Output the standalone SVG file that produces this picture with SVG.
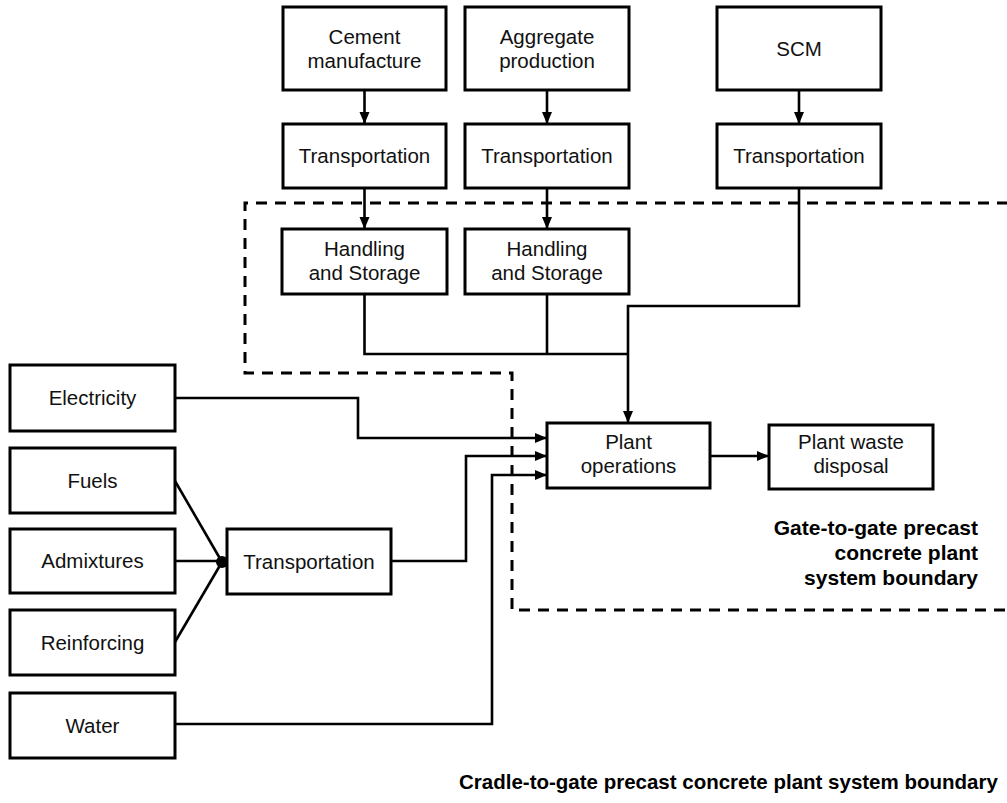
<svg xmlns="http://www.w3.org/2000/svg" width="1007" height="803" viewBox="0 0 1007 803">
<style>
.box{fill:#fff;stroke:#000;stroke-width:3}
.t{font-family:"Liberation Sans",Arial,sans-serif;font-size:20.5px;fill:#111;text-anchor:middle}
.b{font-family:"Liberation Sans",Arial,sans-serif;font-size:21px;font-weight:bold;fill:#000}
.c{fill:none;stroke:#000;stroke-width:2.6}
.a{marker-end:url(#arr)}
.dash{fill:none;stroke:#000;stroke-width:3;stroke-dasharray:11 8}
</style>
<defs>
<marker id="arr" markerUnits="userSpaceOnUse" markerWidth="13" markerHeight="11" refX="12" refY="5" orient="auto">
<path d="M0,0 L12,5 L0,10 Z" fill="#000"/>
</marker>
</defs>
<rect width="1007" height="803" fill="#fff"/>
<g id="boundary-gate">
<path class="dash" d="M1008,203 H245 V373 H512 V610 H1008"/>
</g>
<g id="connectors">
<path class="c a" d="M364.5,90 V124"/>
<path class="c a" d="M547,90 V124"/>
<path class="c a" d="M799,90 V124"/>
<path class="c a" d="M364.5,188 V229"/>
<path class="c a" d="M547,188 V229"/>
<path class="c" d="M364.5,294 V354 H628"/>
<path class="c" d="M547,294 V354"/>
<path class="c a" d="M799,189 V306 H628 V423"/>
<path class="c a" d="M175,398 H358 V438 H547"/>
<path class="c a" d="M391,561 H466 V456 H547"/>
<path class="c a" d="M175,724 H492 V475 H547"/>
<path class="c a" d="M710,456 H769"/>
<path class="c" d="M175,481 L222,562"/>
<path class="c" d="M175,561 H222"/>
<path class="c" d="M175,642 L222,562"/>
<circle cx="222" cy="562" r="6" fill="#000"/>
</g>
<g id="cement">
<rect class="box" x="283" y="7" width="163" height="83"/>
<text class="t" x="364.5" y="44">Cement</text>
<text class="t" x="364.5" y="68">manufacture</text>
</g>
<g id="aggregate">
<rect class="box" x="465" y="7" width="164" height="83"/>
<text class="t" x="547" y="44">Aggregate</text>
<text class="t" x="547" y="68">production</text>
</g>
<g id="scm">
<rect class="box" x="717" y="7" width="164" height="83"/>
<text class="t" x="799" y="56">SCM</text>
</g>
<g id="transport-cement">
<rect class="box" x="283" y="124" width="163" height="64"/>
<text class="t" x="364.5" y="163">Transportation</text>
</g>
<g id="transport-aggregate">
<rect class="box" x="465" y="124" width="164" height="64"/>
<text class="t" x="547" y="163">Transportation</text>
</g>
<g id="transport-scm">
<rect class="box" x="717" y="124" width="164" height="64"/>
<text class="t" x="799" y="163">Transportation</text>
</g>
<g id="handling-cement">
<rect class="box" x="282" y="229" width="165" height="65"/>
<text class="t" x="364.5" y="256">Handling</text>
<text class="t" x="364.5" y="280">and Storage</text>
</g>
<g id="handling-aggregate">
<rect class="box" x="465" y="229" width="164" height="65"/>
<text class="t" x="547" y="256">Handling</text>
<text class="t" x="547" y="280">and Storage</text>
</g>
<g id="electricity">
<rect class="box" x="10" y="365" width="165" height="66"/>
<text class="t" x="92.5" y="405">Electricity</text>
</g>
<g id="fuels">
<rect class="box" x="10" y="448" width="165" height="65"/>
<text class="t" x="92.5" y="488">Fuels</text>
</g>
<g id="admixtures">
<rect class="box" x="10" y="529" width="165" height="64"/>
<text class="t" x="92.5" y="568">Admixtures</text>
</g>
<g id="reinforcing">
<rect class="box" x="10" y="610" width="165" height="65"/>
<text class="t" x="92.5" y="650">Reinforcing</text>
</g>
<g id="water">
<rect class="box" x="10" y="693" width="165" height="65"/>
<text class="t" x="92.5" y="733">Water</text>
</g>
<g id="transport-materials">
<rect class="box" x="227" y="529" width="164" height="65"/>
<text class="t" x="309" y="569">Transportation</text>
</g>
<g id="plant-operations">
<rect class="box" x="547" y="423" width="163" height="65"/>
<text class="t" x="628.5" y="449">Plant</text>
<text class="t" x="628.5" y="473">operations</text>
</g>
<g id="plant-waste">
<rect class="box" x="769" y="425" width="164" height="64"/>
<text class="t" x="851" y="449">Plant waste</text>
<text class="t" x="851" y="473">disposal</text>
</g>
<g id="label-gate">
<text class="b" x="978" y="535" text-anchor="end">Gate-to-gate precast</text>
<text class="b" x="978" y="560" text-anchor="end">concrete plant</text>
<text class="b" x="978" y="585" text-anchor="end">system boundary</text>
</g>
<g id="label-cradle">
<text class="b" x="459" y="789" style="font-size:20.5px">Cradle-to-gate precast concrete plant system boundary</text>
</g>
</svg>
